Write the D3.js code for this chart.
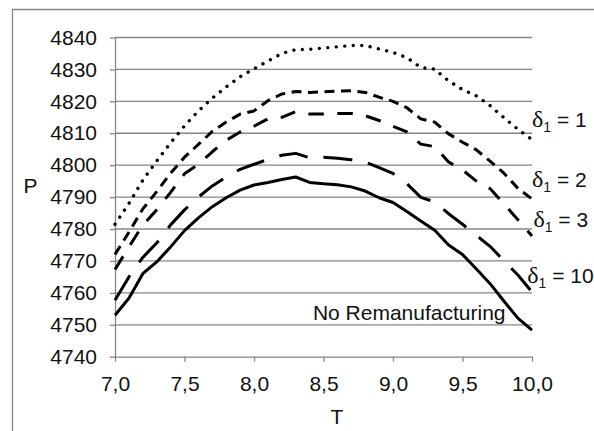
<!DOCTYPE html>
<html>
<head>
<meta charset="utf-8">
<script src="https://cdn.jsdelivr.net/npm/d3@7"></script>
<style>
  html, body { margin: 0; padding: 0; background: #fff; }
  svg { display: block; }
  text { font-family: Arial, "Liberation Sans", sans-serif; fill: #111; }
</style>
</head>
<body>
<svg id="chart" width="594" height="431"></svg>
<script>
// Period length T
const tValues = [7.0, 7.1, 7.2, 7.3, 7.4, 7.5, 7.6, 7.7, 7.8, 7.9, 8.0,
                 8.1, 8.2, 8.3, 8.4, 8.5, 8.6, 8.7, 8.8, 8.9, 9.0,
                 9.1, 9.2, 9.3, 9.4, 9.5, 9.6, 9.7, 9.8, 9.9, 10.0];

// Profit P for each scenario
const delta1 = [4781.5, 4788.0, 4795.3, 4801.3, 4807.0, 4812.3, 4817.0, 4821.0, 4824.5, 4827.7, 4830.2,
                4832.6, 4835.0, 4836.2, 4836.3, 4836.7, 4837.1, 4837.5, 4837.5, 4836.4, 4835.3,
                4833.7, 4830.6, 4830.1, 4826.4, 4823.7, 4821.7, 4818.6, 4814.8, 4811.2, 4808.0];
const delta2 = [4772.0, 4779.0, 4786.3, 4791.7, 4797.5, 4802.5, 4806.5, 4810.6, 4813.5, 4816.0, 4817.0,
                4820.2, 4822.3, 4823.1, 4822.8, 4823.0, 4823.2, 4823.3, 4822.8, 4821.3, 4820.0,
                4818.0, 4814.5, 4813.5, 4809.8, 4807.2, 4804.8, 4801.2, 4797.4, 4792.7, 4789.4];
const delta3 = [4767.3, 4774.4, 4781.2, 4786.0, 4791.5, 4797.3, 4800.3, 4804.2, 4807.8, 4810.4, 4812.2,
                4814.5, 4815.0, 4816.8, 4816.0, 4816.0, 4816.2, 4816.2, 4815.5, 4814.0, 4812.2,
                4810.4, 4806.6, 4805.8, 4801.0, 4798.5, 4795.0, 4792.6, 4787.8, 4782.8, 4777.8];
const delta10 = [4757.7, 4765.0, 4771.1, 4775.6, 4781.3, 4786.0, 4790.0, 4793.5, 4796.3, 4798.7, 4800.3,
                 4801.8, 4803.1, 4803.7, 4802.3, 4802.5, 4802.2, 4801.7, 4801.0, 4799.2, 4797.4,
                 4794.2, 4789.9, 4788.5, 4784.8, 4781.5, 4778.0, 4774.5, 4770.0, 4765.5, 4760.3];
const noReman = [4753.0, 4758.3, 4766.0, 4769.7, 4774.4, 4779.5, 4783.5, 4787.0, 4789.8, 4792.2, 4793.8,
                 4794.6, 4795.5, 4796.3, 4794.6, 4794.2, 4793.9, 4793.2, 4791.9, 4789.8, 4788.3,
                 4785.5, 4782.5, 4779.6, 4775.0, 4772.0, 4767.5, 4762.8, 4757.3, 4752.0, 4748.3];

// Axis ticks
const xTicks = [7.0, 7.5, 8.0, 8.5, 9.0, 9.5, 10.0];
const xTickLabels = ["7,0", "7,5", "8,0", "8,5", "9,0", "9,5", "10,0"];
const yTicks = [4740, 4750, 4760, 4770, 4780, 4790, 4800, 4810, 4820, 4830, 4840];
const yTickLabels = ["4740", "4750", "4760", "4770", "4780", "4790", "4800", "4810", "4820", "4830", "4840"];

// Series names (subscript part handled separately)
const seriesNames = ["1", "2", "3", "10", "No Remanufacturing"];

// ---- layout & styling ----
const W = 594, H = 431;
const plot = { left: 115, right: 532, top: 37.5, bottom: 356.7 };
const gridColor = "#868686";
const fontSize = 21;

const svg = d3.select("#chart");
svg.append("rect").attr("width", W).attr("height", H).attr("fill", "#fff");

// outer chart frame (right and bottom edges run off the canvas)
svg.append("path")
  .attr("d", `M12.5,${H + 2} V9.5 H${W + 2}`)
  .attr("fill", "none").attr("stroke", gridColor).attr("stroke-width", 1.3);

const x = d3.scaleLinear().domain([7, 10]).range([plot.left, plot.right]);
const y = d3.scaleLinear().domain([4740, 4840]).range([plot.bottom, plot.top]);

// horizontal gridlines
svg.append("g").selectAll("line")
  .data(yTicks.slice(1))
  .join("line")
  .attr("x1", plot.left).attr("x2", plot.right)
  .attr("y1", d => y(d)).attr("y2", d => y(d))
  .attr("stroke", gridColor).attr("stroke-width", 1.3);

// axes
const xAxis = d3.axisBottom(x)
  .tickValues(xTicks)
  .tickFormat((d, i) => xTickLabels[i])
  .tickSizeInner(5).tickSizeOuter(0).tickPadding(14);
const yAxis = d3.axisLeft(y)
  .tickValues(yTicks)
  .tickFormat((d, i) => yTickLabels[i])
  .tickSizeInner(5).tickSizeOuter(0).tickPadding(13);

const gx = svg.append("g").attr("transform", `translate(0,${plot.bottom})`).call(xAxis);
const gy = svg.append("g").attr("transform", `translate(${plot.left},0)`).call(yAxis);
[gx, gy].forEach(g => {
  g.select(".domain").attr("stroke", gridColor).attr("stroke-width", 1.3);
  g.selectAll(".tick line").attr("stroke", gridColor).attr("stroke-width", 1.3);
  g.selectAll(".tick text")
    .attr("font-family", 'Arial, "Liberation Sans", sans-serif')
    .attr("font-size", fontSize).attr("fill", "#111");
});

// axis titles
svg.append("text").text("P")
  .attr("x", 30.5).attr("y", 185.5).attr("dy", "0.36em")
  .attr("text-anchor", "middle").attr("font-size", fontSize);
svg.append("text").text("T")
  .attr("x", x(8.5) + 13.5).attr("y", 416).attr("dy", "0.36em")
  .attr("text-anchor", "middle").attr("font-size", fontSize);

// curves
const series = [
  { values: delta1,  dash: "0.01 8.5", cap: "round" },
  { values: delta2,  dash: "10 6.5",   cap: "butt" },
  { values: delta3,  dash: "15.5 13.5", cap: "butt" },
  { values: delta10, dash: "29 16",    cap: "butt" },
  { values: noReman, dash: null,       cap: "butt" }
];

const line = d3.line()
  .x((d, i) => x(tValues[i]))
  .y(d => y(d));

svg.append("g").selectAll("path")
  .data(series)
  .join("path")
  .attr("d", d => line(d.values))
  .attr("fill", "none")
  .attr("stroke", "#000")
  .attr("stroke-width", d => d.dash === "0.01 8.5" ? 3.4 : 3)
  .attr("stroke-linejoin", "round")
  .attr("stroke-linecap", d => d.cap)
  .attr("stroke-dasharray", d => d.dash);

// curve labels, anchored in data coordinates
const labelAnchors = [
  { t: 10.0,  p: 4811.9 },
  { t: 10.0,  p: 4793.1 },
  { t: 10.01, p: 4780.6 },
  { t: 9.966, p: 4763.0 },
  { t: 8.424, p: 4751.4 }
];

seriesNames.forEach((name, i) => {
  const a = labelAnchors[i];
  const txt = svg.append("text")
    .attr("x", x(a.t)).attr("y", y(a.p))
    .attr("font-size", fontSize);
  if (i < 4) {
    txt.append("tspan").text("δ")
      .attr("font-family", '"Liberation Serif", "Times New Roman", serif')
      .attr("font-size", 24);
    txt.append("tspan").text("1")
      .attr("font-size", 14).attr("dy", 5);
    txt.append("tspan").text(" = " + name).attr("dy", -5);
  } else {
    txt.text(name);
  }
});
</script>
</body>
</html>
